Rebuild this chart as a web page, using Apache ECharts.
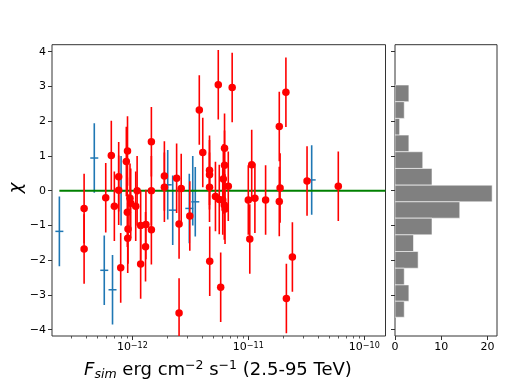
<!DOCTYPE html>
<html><head><meta charset="utf-8">
<script src="https://cdn.jsdelivr.net/npm/echarts@6/dist/echarts.min.js"></script>
<style>html,body{margin:0;padding:0;background:#fff}#c{width:512px;height:383px}</style>
</head><body><div id="c"></div>
<script>
// ---- data ----
const redFlux = [3.84e-13,3.84e-13,5.90e-13,6.59e-13,7.00e-13,7.63e-13,7.63e-13,7.94e-13,9.09e-13,8.88e-13,
  9.06e-13,9.18e-13,9.13e-13,9.55e-13,9.69e-13,1.07e-12,1.10e-12,1.18e-12,1.18e-12,1.30e-12,
  1.31e-12,1.46e-12,1.46e-12,1.46e-12,1.89e-12,1.89e-12,2.41e-12,2.64e-12,2.53e-12,2.53e-12,
  3.13e-12,3.78e-12,4.05e-12,4.63e-12,4.63e-12,4.63e-12,4.65e-12,5.21e-12,5.51e-12,7.26e-12,
  6.24e-12,6.24e-12,6.09e-12,5.62e-12,6.02e-12,6.21e-12,6.30e-12,6.72e-12,5.78e-12,1.00e-11,
  1.07e-11,1.14e-11,1.03e-11,1.41e-11,1.85e-11,2.11e-11,1.88e-11,1.85e-11,2.40e-11,2.13e-11,
  3.21e-11,5.97e-11];
const redChi = [-0.51,-1.68,-0.20,1.01,-0.45,0.40,0.01,-2.22,1.14,0.84,
  -0.62,-1.10,-1.37,-0.22,-0.36,-0.45,0.00,-1.00,-2.11,-1.61,
  -0.97,1.41,0.00,-1.12,0.42,0.10,0.36,0.06,-0.96,-3.52,
  -0.73,2.32,1.10,0.59,0.46,0.10,-2.03,-0.17,3.05,2.97,
  1.22,0.73,0.34,-0.25,-0.27,-0.41,-0.53,0.13,-2.78,-0.27,
  0.75,-0.22,-1.39,-0.27,1.85,2.83,0.08,-0.31,-1.91,-3.10,
  0.28,0.13];
const blueFlux = [2.35e-13,4.70e-13,5.73e-13,6.75e-13,8.00e-13,2.02e-12,2.23e-12,3.10e-12,3.32e-12,3.49e-12,3.52e-11];
const blueChi  = [-1.17,0.94,-2.29,-2.85,0.00,0.17,-0.56,-0.51,0.00,-0.32,0.31];
const chiErr = 1;
const zeroLineFlux = [2.35e-13, 1.52e-10];
const xMajorTicks = [1e-12, 1e-11, 1e-10];
const xMinorTicks = [3e-13,4e-13,5e-13,6e-13,7e-13,8e-13,9e-13,
  2e-12,3e-12,4e-12,5e-12,6e-12,7e-12,8e-12,9e-12,
  2e-11,3e-11,4e-11,5e-11,6e-11,7e-11,8e-11,9e-11];
const yTicks = [-4,-3,-2,-1,0,1,2,3,4];
const histEdges = [3.04,2.56,2.08,1.60,1.12,0.64,0.16,-0.32,-0.79,-1.27,-1.75,-2.23,-2.71,-3.18,-3.64];
const histCounts = [3,2,1,3,6,8,21,14,8,4,5,2,3,2];
const histTicks = [0,10,20];

// ---- chart ----
const FONT = 'DejaVu Sans';
const X_MIN = 2.03e-13, X_MAX = 1.524e-10, Y_MIN = -4.18, Y_MAX = 4.2;
const minus = v => String(v).replace('-', '\u2212');

function errBars(flux, chi, color, z) {
  return {
    type: 'custom', xAxisIndex: 0, yAxisIndex: 0, z: z, silent: true, clip: true,
    encode: {x: 0, y: [1, 2]},
    data: flux.map((f, i) => [f, chi[i] - chiErr, chi[i] + chiErr]),
    renderItem: (params, api) => {
      const a = api.coord([api.value(0), api.value(1)]);
      const b = api.coord([api.value(0), api.value(2)]);
      return {type: 'line', shape: {x1: a[0], y1: a[1], x2: b[0], y2: b[1]},
              style: {stroke: color, lineWidth: 1.6}};
    }
  };
}

const mainBox = {left: 52, top: 44.7, width: 333.5, height: 291.3};
const grid0 = Object.assign({show: true, borderColor: '#333', borderWidth: 1, backgroundColor: 'transparent'}, mainBox);
const grid1 = {left: 395, top: 44.7, width: 102, height: 291.3, show: true, borderColor: '#333', borderWidth: 1, backgroundColor: 'transparent'};
const grid2 = Object.assign({show: false}, mainBox);

const option = {
  animation: false,
  backgroundColor: '#fff',
  grid: [grid0, grid1, grid2],
  xAxis: [
    {type: 'log', logBase: 10, gridIndex: 0, position: 'bottom', min: X_MIN, max: X_MAX,
     axisLine: {show: false, onZero: false}, splitLine: {show: false},
     axisTick: {customValues: xMajorTicks, length: 4, lineStyle: {color: '#333', width: 1}},
     axisLabel: {customValues: xMajorTicks, margin: 6, color: '#000', fontFamily: FONT, fontSize: 11,
       formatter: v => '10{s|' + minus(Math.round(Math.log10(v))) + '}',
       rich: {s: {fontSize: 8, fontFamily: FONT, color: '#000', verticalAlign: 'top', lineHeight: 8}}}},
    {type: 'log', logBase: 10, gridIndex: 2, position: 'bottom', min: X_MIN, max: X_MAX,
     axisLine: {show: false, onZero: false}, splitLine: {show: false}, axisLabel: {show: false},
     axisTick: {customValues: xMinorTicks, length: 2.5, lineStyle: {color: '#333', width: 0.8}}},
    {type: 'value', gridIndex: 1, position: 'bottom', min: 0, max: 22.05,
     axisLine: {show: false, onZero: false}, splitLine: {show: false},
     axisTick: {customValues: histTicks, length: 4, lineStyle: {color: '#333'}},
     axisLabel: {customValues: histTicks, margin: 6, color: '#000', fontFamily: FONT, fontSize: 11}}
  ],
  yAxis: [
    {type: 'value', gridIndex: 0, min: Y_MIN, max: Y_MAX,
     axisLine: {show: false, onZero: false}, splitLine: {show: false},
     axisTick: {customValues: yTicks, length: 4, lineStyle: {color: '#333'}},
     axisLabel: {customValues: yTicks, margin: 6, color: '#000', fontFamily: FONT, fontSize: 11, formatter: v => minus(v)}},
    {type: 'value', gridIndex: 1, min: Y_MIN, max: Y_MAX,
     axisLine: {show: false, onZero: false}, splitLine: {show: false},
     axisTick: {customValues: yTicks, length: 4, lineStyle: {color: '#333'}},
     axisLabel: {show: false}},
    {type: 'value', gridIndex: 2, min: Y_MIN, max: Y_MAX, show: false}
  ],
  series: [
    errBars(blueFlux, blueChi, '#1f77b4', 2),
    {type: 'scatter', xAxisIndex: 0, yAxisIndex: 0, z: 3, silent: true,
     symbol: 'rect', symbolSize: [8, 1.5], itemStyle: {color: '#1f77b4', opacity: 1},
     data: blueFlux.map((f, i) => [f, blueChi[i]])},
    {type: 'line', xAxisIndex: 0, yAxisIndex: 0, z: 4, silent: true, symbol: 'none',
     lineStyle: {color: '#008000', width: 2}, data: zeroLineFlux.map(f => [f, 0])},
    errBars(redFlux, redChi, '#ff0000', 5),
    {type: 'scatter', xAxisIndex: 0, yAxisIndex: 0, z: 6, silent: true,
     symbol: 'circle', symbolSize: 7.5, itemStyle: {color: '#ff0000', opacity: 1},
     data: redFlux.map((f, i) => [f, redChi[i]])},
    {type: 'custom', xAxisIndex: 2, yAxisIndex: 1, silent: true, clip: true,
     encode: {x: 2, y: [0, 1]},
     data: histCounts.map((c, i) => [histEdges[i + 1], histEdges[i], c]),
     renderItem: (params, api) => {
       const a = api.coord([0, api.value(1)]);
       const b = api.coord([api.value(2), api.value(0)]);
       return {type: 'rect', shape: {x: a[0], y: a[1], width: b[0] - a[0], height: b[1] - a[1]},
               style: {fill: '#808080', stroke: 'rgba(255,255,255,0.7)', lineWidth: 0.8}};
     }}
  ],
  graphic: [
    {type: 'text', x: 218, y: 370, silent: true,
     style: {text: '{i|F}{sub|sim} erg cm{sup|\u22122} s{sup|\u22121} (2.5-95 TeV)',
       align: 'center', verticalAlign: 'middle', fontFamily: FONT, fontSize: 18, fill: '#000',
       rich: {
         i: {fontStyle: 'italic', fontFamily: FONT, fontSize: 18, lineHeight: 22},
         sub: {fontStyle: 'italic', fontFamily: FONT, fontSize: 12.5, verticalAlign: 'bottom', lineHeight: 12},
         sup: {fontFamily: FONT, fontSize: 12.5, verticalAlign: 'top', lineHeight: 12}
       }}},
    {type: 'text', x: 16, y: 188, rotation: Math.PI / 2, silent: true,
     style: {text: '\u03c7', align: 'center', verticalAlign: 'middle', fontFamily: FONT,
       fontStyle: 'italic', fontSize: 18, fill: '#000'}}
  ]
};
const chart = echarts.init(document.getElementById('c'), null, {renderer: 'canvas'});
chart.setOption(option);
</script></body></html>
